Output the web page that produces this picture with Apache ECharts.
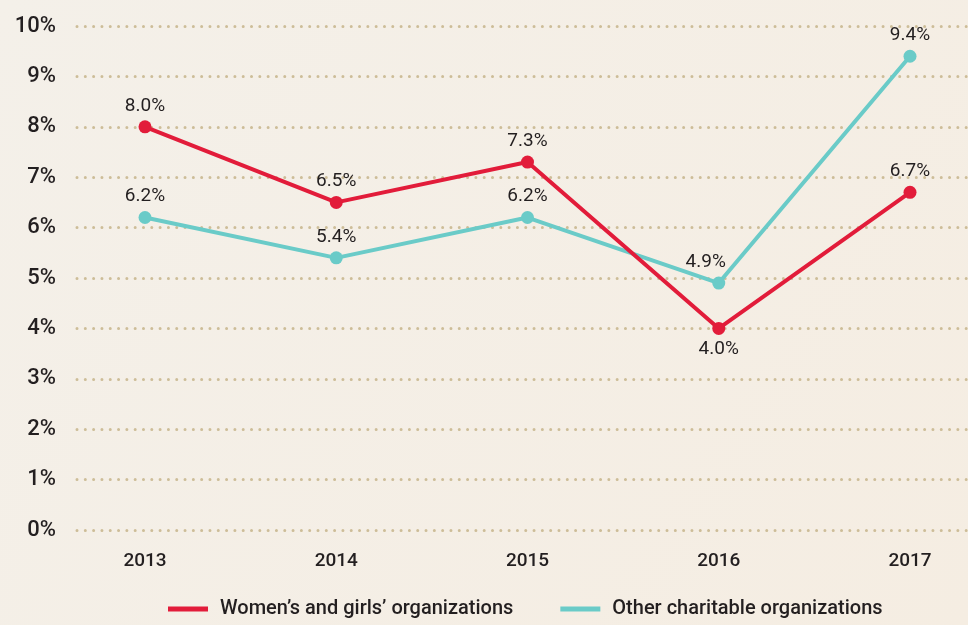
<!DOCTYPE html>
<html>
<head>
<meta charset="utf-8">
<script src="https://cdn.jsdelivr.net/npm/echarts@6/dist/echarts.min.js"></script>
<style>
  html, body { margin: 0; padding: 0; }
  #chart { width: 968px; height: 625px; }
</style>
</head>
<body>
<div id="chart"></div>
<script>
  // data
  var years = ['2013', '2014', '2015', '2016', '2017'];
  var womenGirls = [8.0, 6.5, 7.3, 4.0, 6.7];
  var otherCharities = [6.2, 5.4, 6.2, 4.9, 9.4];
  var seriesNames = ["Women\u2019s and girls\u2019 organizations", 'Other charitable organizations'];

  var RED = '#E21C3A';
  var TEAL = '#6ACBC8';
  var TEXT = '#231F20';
  var FONT = 'Roboto';

  var chart = echarts.init(document.getElementById('chart'));

  function pctLabel(p) { return p.value.toFixed(1) + '%'; }

  var option = {
    backgroundColor: new echarts.graphic.LinearGradient(0, 0, 1, 1, [
      { offset: 0, color: '#F4F0E9' },
      { offset: 1, color: '#F5EDE2' }
    ]),
    textStyle: { fontFamily: FONT },
    legend: {
      bottom: 1,
      left: 163,
      itemGap: 47,
      itemWidth: 40,
      itemHeight: 5,
      icon: 'rect',
      textStyle: { color: TEXT, fontSize: 20, fontWeight: 500, fontFamily: FONT, padding: [0, 0, 0, 7] },
      data: seriesNames
    },
    grid: [
      // grid for the y axis and dotted gridlines
      { left: 77, right: 0, top: 26, bottom: 95 },
      // grid for the plotted lines and year labels
      { left: 145, right: 58, top: 26, bottom: 95 }
    ],
    xAxis: [
      { gridIndex: 0, type: 'category', data: years, show: false },
      {
        gridIndex: 1, type: 'category', data: years, boundaryGap: false,
        axisLine: { show: false }, axisTick: { show: false },
        axisLabel: { color: TEXT, fontSize: 19, margin: 22, fontWeight: 500, fontFamily: FONT }
      }
    ],
    yAxis: [
      {
        gridIndex: 0, type: 'value', min: 0, max: 10, interval: 1,
        axisLine: { show: false }, axisTick: { show: false },
        axisLabel: {
          formatter: '{value}%', color: TEXT, fontSize: 22, fontWeight: 500,
          margin: 21, fontFamily: FONT
        },
        splitLine: {
          lineStyle: { color: '#CDBD98', type: [0.01, 8.3], width: 3, cap: 'round' }
        }
      },
      { gridIndex: 1, type: 'value', min: 0, max: 10, show: false }
    ],
    series: [
      {
        name: seriesNames[1],
        type: 'line',
        xAxisIndex: 1, yAxisIndex: 1,
        data: otherCharities.map(function (v, i) {
          var d = { value: v };
          if (i === 3) d.label = { offset: [-13, 0] };
          return d;
        }),
        color: TEAL,
        lineStyle: { width: 4, color: TEAL },
        symbol: 'circle', symbolSize: 13,
        itemStyle: { color: TEAL },
        label: {
          show: true, position: 'top', distance: 5,
          formatter: pctLabel,
          color: TEXT, fontSize: 19, fontFamily: FONT
        },
        z: 2
      },
      {
        name: seriesNames[0],
        type: 'line',
        xAxisIndex: 1, yAxisIndex: 1,
        data: womenGirls.map(function (v, i) {
          var d = { value: v };
          if (i === 3) d.label = { position: 'bottom' };
          return d;
        }),
        color: RED,
        lineStyle: { width: 4, color: RED },
        symbol: 'circle', symbolSize: 13,
        itemStyle: { color: RED },
        label: {
          show: true, position: 'top', distance: 5,
          formatter: pctLabel,
          color: TEXT, fontSize: 19, fontFamily: FONT
        },
        z: 3
      }
    ]
  };

  chart.setOption(option);
</script>
</body>
</html>
